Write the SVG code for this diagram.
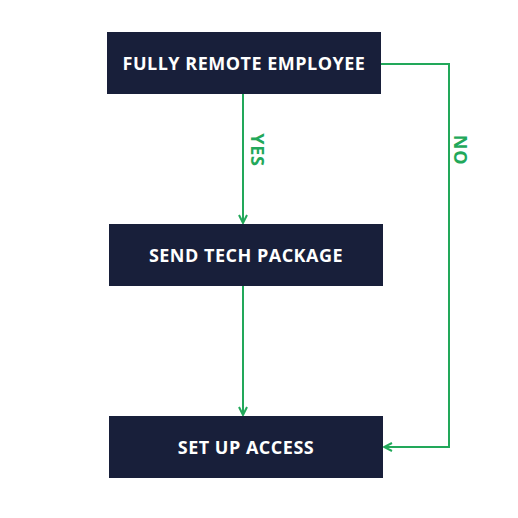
<svg xmlns="http://www.w3.org/2000/svg" width="518" height="518" viewBox="0 0 518 518">
<style>
.box{fill:#181f3a;}
.t{font-family:"Open Sans","Liberation Sans",sans-serif;font-weight:700;font-size:18px;letter-spacing:0.5px;fill:#ffffff;text-anchor:middle;}
.c{stroke:#22a85a;stroke-width:2;fill:none;}
.l{font-family:"Open Sans","Liberation Sans",sans-serif;font-weight:700;font-size:18px;letter-spacing:0.8px;fill:#22a85a;text-anchor:middle;}
</style>
<defs>
<marker id="ah" viewBox="0 0 10 10" refX="9" refY="5" markerWidth="10" markerHeight="10" markerUnits="userSpaceOnUse" orient="auto">
<path d="M1,1 L9,5 L1,9" fill="none" stroke="#22a85a" stroke-width="2"/>
</marker>
</defs>
<rect width="518" height="518" fill="#ffffff"/>
<g id="connectors">
<line class="c" x1="243" y1="94" x2="243" y2="223" marker-end="url(#ah)"/>
<line class="c" x1="243" y1="286" x2="243" y2="415" marker-end="url(#ah)"/>
<polyline class="c" points="381,64 449,64 449,447 384,447" marker-end="url(#ah)"/>
<text class="l" transform="translate(251,150) rotate(90)">YES</text>
<text class="l" transform="translate(454,150) rotate(90)">NO</text>
</g>
<g id="node1">
<rect class="box" x="107" y="32" width="274" height="62"/>
<text class="t" x="244" y="70">FULLY REMOTE EMPLOYEE</text>
</g>
<g id="node2">
<rect class="box" x="109" y="224" width="274" height="62"/>
<text class="t" x="246" y="262">SEND TECH PACKAGE</text>
</g>
<g id="node3">
<rect class="box" x="109" y="416" width="274" height="62"/>
<text class="t" x="246" y="454">SET UP ACCESS</text>
</g>
</svg>
